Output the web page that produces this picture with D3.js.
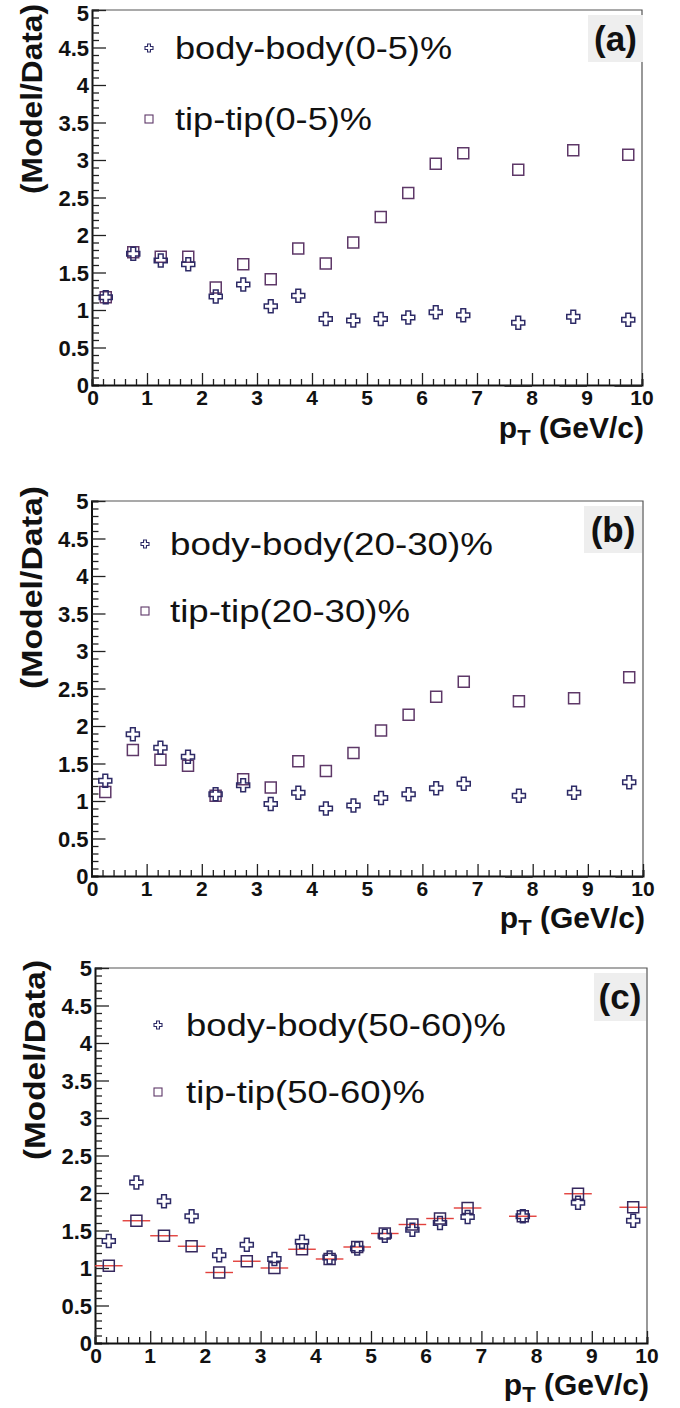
<!DOCTYPE html>
<html>
<head>
<meta charset="utf-8">
<script src="https://cdn.jsdelivr.net/npm/d3@7"></script>
<style>
  html, body { margin: 0; padding: 0; background: #fff; }
  svg { display: block; font-family: "Liberation Sans", Arial, Helvetica, sans-serif; }
</style>
</head>
<body>
<svg id="chart" width="680" height="1408"></svg>
<script>
// pT bin centres (GeV/c)
const ptBins = [0.25, 0.75, 1.25, 1.75, 2.25, 2.75, 3.25, 3.75, 4.25, 4.75, 5.25, 5.75, 6.25, 6.75, 7.75, 8.75, 9.75];

// Model/Data ratios, 0-5% centrality
const bodyA = [1.17, 1.75, 1.66, 1.61, 1.18, 1.34, 1.05, 1.19, 0.88, 0.86, 0.88, 0.90, 0.97, 0.93, 0.83, 0.91, 0.87];
const tipA  = [1.17, 1.77, 1.71, 1.71, 1.30, 1.61, 1.41, 1.82, 1.62, 1.90, 2.24, 2.56, 2.95, 3.09, 2.87, 3.13, 3.07];

// 20-30%
const bodyB = [1.27, 1.89, 1.71, 1.59, 1.09, 1.21, 0.96, 1.11, 0.90, 0.94, 1.04, 1.09, 1.17, 1.23, 1.07, 1.11, 1.25];
const tipB  = [1.12, 1.68, 1.55, 1.47, 1.07, 1.29, 1.18, 1.53, 1.40, 1.64, 1.94, 2.15, 2.39, 2.59, 2.33, 2.37, 2.65];

// 50-60%
const bodyC = [1.36, 2.14, 1.89, 1.69, 1.17, 1.31, 1.12, 1.35, 1.14, 1.26, 1.43, 1.51, 1.60, 1.68, 1.69, 1.87, 1.63];
const tipC  = [1.03, 1.63, 1.43, 1.29, 0.94, 1.09, 1.00, 1.25, 1.12, 1.28, 1.46, 1.58, 1.66, 1.80, 1.69, 1.99, 1.81];
const tipErrC = [0.25, 0.25, 0.25, 0.25, 0.25, 0.25, 0.25, 0.25, 0.25, 0.25, 0.25, 0.25, 0.25, 0.25, 0.25, 0.25, 0.25];

// wide bins drawn along the pT axis
const wideBins = [[7.5, 8], [8.5, 9], [9.5, 10]];

const xTicks = [0, 1, 2, 3, 4, 5, 6, 7, 8, 9, 10];
const yTicks = [0, 0.5, 1, 1.5, 2, 2.5, 3, 3.5, 4, 4.5, 5];
const yTickLabels = ["0", "0.5", "1", "1.5", "2", "2.5", "3", "3.5", "4", "4.5", "5"];

const panelTags = ["(a)", "(b)", "(c)"];
const bodyLabels = ["body-body(0-5)%", "body-body(20-30)%", "body-body(50-60)%"];
const tipLabels = ["tip-tip(0-5)%", "tip-tip(20-30)%", "tip-tip(50-60)%"];

const BODY_COLOR = "#2d2a66";
const TIP_COLOR = "#5e3868";
const TIP_COLOR_C = "#36285e";
const ERR_COLOR = "#e2403c";

const panels = [
  { x0: 92, x1: 642, y0: 10, y1: 385, body: bodyA, tip: tipA, tipColor: TIP_COLOR, wide: true,
    titleTop: 4, titleLen: 190, xtDy: 53,
    legX: 149, legY: [48, 119], textX: 175, textW: [277, 197], tagBox: [588, 15, 55, 47] },
  { x0: 91.5, x1: 643, y0: 501, y1: 876, body: bodyB, tip: tipB, tipColor: TIP_COLOR, wide: true,
    titleTop: 486, titleLen: 203, xtDy: 52,
    legX: 145, legY: [544, 611], textX: 170, textW: [323, 240], tagBox: [584, 506, 58, 47] },
  { x0: 95, x1: 647, y0: 968, y1: 1343, body: bodyC, tip: tipC, tipColor: TIP_COLOR_C, err: tipErrC,
    titleTop: 960, titleLen: 200, xtDy: 52,
    legX: 158, legY: [1025, 1092], textX: 186, textW: [320, 239], tagBox: [594, 973, 52, 48] }
];

const svg = d3.select("#chart");

// open cross (ROOT style 28) centred on 0,0
function crossPath(s) {
  const h = s / 2, a = s / 5.5;
  return `M${-a},${-h}L${a},${-h}L${a},${-a}L${h},${-a}L${h},${a}L${a},${a}L${a},${h}L${-a},${h}L${-a},${a}L${-h},${a}L${-h},${-a}L${-a},${-a}Z`;
}

panels.forEach((p, i) => {
  const x = d3.scaleLinear().domain([0, 10]).range([p.x0, p.x1]);
  const y = d3.scaleLinear().domain([0, 5]).range([p.y1, p.y0]);
  const g = svg.append("g");

  // frame: top/right thin grey
  g.append("path")
    .attr("d", `M${p.x0},${p.y0}H${p.x1}V${p.y1}`)
    .attr("fill", "none").attr("stroke", "#555").attr("stroke-width", 1.2);

  // y axis
  const yAxis = g.append("g").attr("transform", `translate(${p.x0},0)`)
    .call(d3.axisRight(y).tickValues(d3.range(0, 50.1, 1).map(v => v / 10))
      .tickSize(7).tickFormat(""));
  yAxis.selectAll(".tick line").filter(d => Math.abs(d * 2 - Math.round(d * 2)) < 1e-6)
    .attr("x2", 14);
  yAxis.select(".domain").attr("stroke", "#111").attr("stroke-width", 2);
  yAxis.selectAll(".tick line").attr("stroke", "#222").attr("stroke-width", 1.3);

  g.selectAll(".ylab").data(yTicks).join("text")
    .attr("x", p.x0 - 3).attr("y", d => Math.max(y(d) + 8, 21))
    .attr("text-anchor", "end").attr("font-weight", "bold").attr("font-size", 22)
    .attr("fill", "#111")
    .text((d, k) => yTickLabels[k]);

  // x axis
  const xAxis = g.append("g").attr("transform", `translate(0,${p.y1})`)
    .call(d3.axisTop(x).tickValues(d3.range(0, 50.1, 1).map(v => v / 5))
      .tickSize(6).tickFormat(""));
  xAxis.selectAll(".tick line").filter(d => Math.abs(d - Math.round(d)) < 1e-6)
    .attr("y2", -12);
  xAxis.select(".domain").attr("stroke", "#111").attr("stroke-width", 2);
  xAxis.selectAll(".tick line").attr("stroke", "#222").attr("stroke-width", 1.3);

  g.selectAll(".xlab").data(xTicks).join("text")
    .attr("x", d => x(d) + (d === 0 ? 1 : 0)).attr("y", p.y1 + 20)
    .attr("text-anchor", "middle").attr("font-weight", "bold").attr("font-size", 21)
    .attr("fill", "#111")
    .text(d => d);

  if (p.wide) {
    g.selectAll(".wide").data(wideBins).join("line")
      .attr("x1", d => x(d[0])).attr("x2", d => x(d[1]))
      .attr("y1", p.y1 + 1).attr("y2", p.y1 + 1)
      .attr("stroke", "#222").attr("stroke-width", 1.6);
  }

  // axis titles
  g.append("text")
    .attr("transform", `translate(${p.x0 - 50},${p.titleTop}) rotate(-90)`)
    .attr("text-anchor", "end").attr("font-weight", "bold").attr("font-size", 30)
    .attr("fill", "#111")
    .attr("textLength", p.titleLen).attr("lengthAdjust", "spacingAndGlyphs")
    .text("(Model/Data)");

  const xt = g.append("text")
    .attr("x", p.x1 + 2).attr("y", p.y1 + p.xtDy)
    .attr("text-anchor", "end").attr("font-weight", "bold").attr("font-size", 30)
    .attr("fill", "#111");
  xt.append("tspan").text("p");
  xt.append("tspan").attr("dy", 7).attr("font-size", 22).text("T");
  xt.append("tspan").attr("dy", -7).text(" (GeV/c)");

  // red horizontal bin-width bars under the tip-tip points
  if (p.err) {
    g.selectAll(".err").data(ptBins).join("line")
      .attr("x1", (d, k) => x(d - p.err[k])).attr("x2", (d, k) => x(d + p.err[k]))
      .attr("y1", (d, k) => y(p.tip[k])).attr("y2", (d, k) => y(p.tip[k]))
      .attr("stroke", ERR_COLOR).attr("stroke-width", 1.4);
  }

  // markers
  g.selectAll(".tip").data(ptBins).join("rect")
    .attr("x", d => x(d) - 5.5).attr("y", (d, k) => y(p.tip[k]) - 5.5)
    .attr("width", 11).attr("height", 11)
    .attr("fill", "none").attr("stroke", p.tipColor).attr("stroke-width", 1.5);

  g.selectAll(".body").data(ptBins).join("path")
    .attr("transform", (d, k) => `translate(${x(d)},${y(p.body[k])})`)
    .attr("d", crossPath(13))
    .attr("fill", "none").attr("stroke", BODY_COLOR).attr("stroke-width", 1.5);

  // legend
  g.append("path")
    .attr("transform", `translate(${p.legX},${p.legY[0]})`)
    .attr("d", crossPath(8))
    .attr("fill", "none").attr("stroke", BODY_COLOR).attr("stroke-width", 1.1);
  g.append("rect")
    .attr("x", p.legX - 4).attr("y", p.legY[1] - 4).attr("width", 8).attr("height", 8)
    .attr("fill", "none").attr("stroke", TIP_COLOR).attr("stroke-width", 1.1);

  [bodyLabels[i], tipLabels[i]].forEach((t, k) => {
    g.append("text")
      .attr("x", p.textX).attr("y", p.legY[k] + 11)
      .attr("font-size", 32).attr("fill", "#111")
      .attr("textLength", p.textW[k]).attr("lengthAdjust", "spacingAndGlyphs")
      .text(t);
  });

  // panel tag on a light box
  const [bx, by, bw, bh] = p.tagBox;
  g.append("rect").attr("x", bx).attr("y", by).attr("width", bw).attr("height", bh)
    .attr("fill", "#eeeeee");
  g.append("text")
    .attr("x", bx + bw / 2).attr("y", by + bh / 2 + 12)
    .attr("text-anchor", "middle").attr("font-weight", "bold").attr("font-size", 35)
    .attr("fill", "#111")
    .text(panelTags[i]);
});
</script>
</body>
</html>
